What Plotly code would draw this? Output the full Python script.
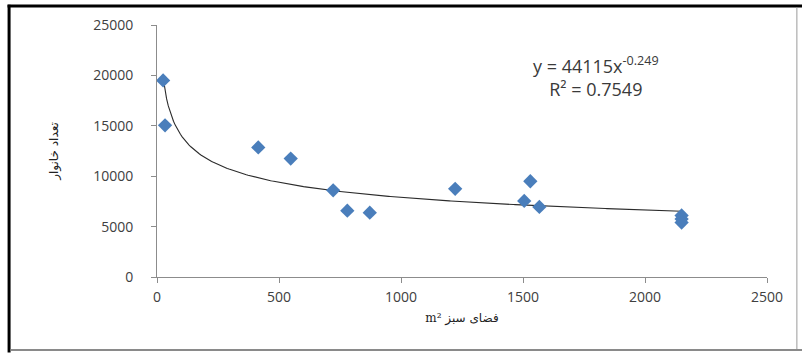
import numpy as np
import plotly.graph_objects as go

# Data
green_area = [25, 33, 415, 548, 722, 780, 872, 1222, 1505, 1530, 1567, 2150, 2150, 2150]
households = [19500, 15050, 12850, 11750, 8600, 6580, 6380, 8750, 7550, 9500, 6950, 6100, 5750, 5400]

# Trendline equation shown in the chart: y = A * x^B
fit_a = 44115
fit_b = -0.249
r_squared = 0.7549

x_ticks = [0, 500, 1000, 1500, 2000, 2500]
y_ticks = [0, 5000, 10000, 15000, 20000, 25000]

x_title = "m² فضای سبز"
y_title = "تعداد خانوار"

xs = np.linspace(min(green_area), max(green_area), 300)
ys = fit_a * xs ** fit_b

fig = go.Figure()
fig.add_trace(go.Scatter(
    x=xs, y=ys, mode="lines",
    line=dict(color="#2b2b2b", width=1.1),
    hoverinfo="skip", showlegend=False,
))
fig.add_trace(go.Scatter(
    x=green_area, y=households, mode="markers",
    marker=dict(symbol="diamond", size=11, color="#4A7EBB",
                line=dict(width=0)),
    showlegend=False,
))

tick_font = dict(family="Open Sans, Liberation Sans, sans-serif", size=14, color="#404040")

fig.update_layout(
    width=802, height=354,
    margin=dict(l=157, r=35, t=25, b=77, autoexpand=False),
    paper_bgcolor="white", plot_bgcolor="white",
    xaxis=dict(
        range=[0, 2500], tickvals=x_ticks, ticktext=[str(v) for v in x_ticks],
        showgrid=False, zeroline=False, showline=True, linecolor="#8c8c8c", linewidth=1,
        ticks="outside", ticklen=5, tickcolor="#8c8c8c", tickfont=tick_font,
        ticklabelstandoff=2, automargin=False,
        title=dict(text=x_title, font=dict(family="DejaVu Serif, DejaVu Sans, serif", size=12, color="#222"),
                   standoff=8),
    ),
    yaxis=dict(
        range=[0, 25000], tickvals=y_ticks, ticktext=[str(v) for v in y_ticks],
        showgrid=False, zeroline=False, showline=True, linecolor="#8c8c8c", linewidth=1,
        ticks="outside", ticklen=5, tickcolor="#8c8c8c", tickfont=tick_font,
        ticklabelstandoff=15, automargin=False,
        title=dict(text=y_title, font=dict(family="DejaVu Sans, sans-serif", size=12, color="#222"),
                   standoff=31),
    ),
    annotations=[dict(
        x=1800, y=19850, xref="x", yref="y", showarrow=False,
        text=f"y = {fit_a}x<sup>{fit_b}</sup><br>R² = {r_squared}",
        font=dict(family="Open Sans, Liberation Sans, sans-serif", size=18, color="#3a3a3a"),
        align="center",
    )],
    shapes=[
        # outer chart frame
        dict(type="line", xref="paper", yref="paper", x0=-0.245, x1=1.06, y0=1.075, y1=1.075,
             line=dict(color="black", width=3)),
        dict(type="line", xref="paper", yref="paper", x0=-0.2425, x1=-0.2425, y0=1.08, y1=-0.30,
             line=dict(color="black", width=3)),
        dict(type="line", xref="paper", yref="paper", x0=1.049, x1=1.049, y0=1.07, y1=-0.29,
             line=dict(color="#9a9a9a", width=1)),
        dict(type="line", xref="paper", yref="paper", x0=-0.24, x1=1.06, y0=-0.29, y1=-0.29,
             line=dict(color="#8a8a8a", width=2)),
    ],
)

fig.write_html("out.html", config={"displayModeBar": False},
               post_script="document.body.style.margin='0';document.body.style.overflow='hidden';")
